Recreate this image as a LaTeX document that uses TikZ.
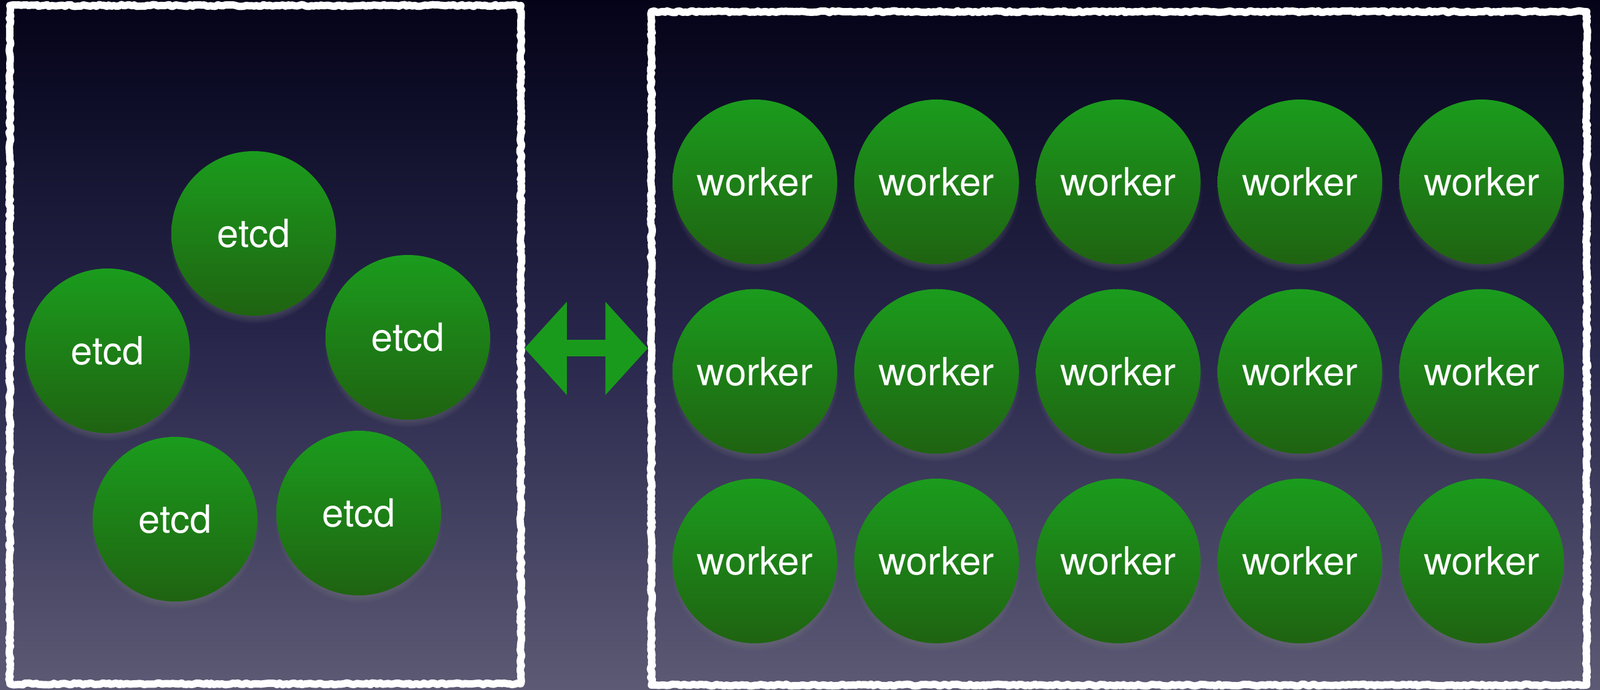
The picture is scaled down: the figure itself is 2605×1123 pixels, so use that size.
\documentclass[tikz,border=0pt]{standalone}
\usepackage{fontspec}
\setmainfont{TeX Gyre Heros}
\usetikzlibrary{arrows.meta,positioning,shadows,decorations.pathmorphing}
\definecolor{bgtop}{RGB}{4,3,24}
\definecolor{bgmid}{RGB}{40,39,76}
\definecolor{bgbot}{RGB}{92,90,116}
\definecolor{nodetop}{RGB}{27,156,29}
\definecolor{nodebot}{RGB}{31,99,17}
\definecolor{arrgreen}{RGB}{26,154,28}

\begin{document}
\begin{tikzpicture}[
    x=0.1mm, y=-0.1mm,
    font=\fontsize{18}{22}\selectfont,
    member/.style={
            circle, minimum size=26.8mm, inner sep=0pt, outer sep=0pt, text=white,
            top color=nodetop, bottom color=nodebot,
            circular drop shadow={shadow xshift=0pt, shadow yshift=-1mm,
                    shadow scale=1.02, opacity=.5}
        },
    chalk/.style={
            draw=white, line width=3.4pt, line join=round, decorate,
            decoration={random steps, segment length=1.2pt, amplitude=.45pt}
        },
    dblarr/.style={
            {Triangle[length=6.9mm,width=15.2mm,line width=0pt]}-{Triangle[length=6.9mm,width=15.2mm,line width=0pt]},
            line width=2.7mm, arrgreen
        }
    ]
    \useasboundingbox (0,0) rectangle (2605,1123);
    \shade[top color=bgtop, bottom color=bgbot, middle color=bgmid] (0,0) rectangle (2605,1123);

    % the two groups
    \node[chalk, minimum width=83.2mm, minimum height=110.4mm] (etcdbox) at (432,561) {};
    \node[chalk, minimum width=152.3mm, minimum height=109.6mm] (workerbox) at (1822,567) {};

    % etcd cluster
    \node[member] (etcd1) at (413,380) {etcd};
    \node[member] (etcd2) at (175,571) {etcd};
    \node[member] (etcd3) at (664,549) {etcd};
    \node[member] (etcd4) at (285,845) {etcd};
    \node[member] (etcd5) at (584,835) {etcd};

    % workers
    \node[member] (w11) at (1229,296) {worker};
    \node[member, right=2.78mm of w11] (w12) {worker};
    \node[member, right=2.78mm of w12] (w13) {worker};
    \node[member, right=2.78mm of w13] (w14) {worker};
    \node[member, right=2.78mm of w14] (w15) {worker};
    \node[member, below=4.05mm of w11] (w21) {worker};
    \node[member, right=2.78mm of w21] (w22) {worker};
    \node[member, right=2.78mm of w22] (w23) {worker};
    \node[member, right=2.78mm of w23] (w24) {worker};
    \node[member, right=2.78mm of w24] (w25) {worker};
    \node[member, below=4.05mm of w21] (w31) {worker};
    \node[member, right=2.78mm of w31] (w32) {worker};
    \node[member, right=2.78mm of w32] (w33) {worker};
    \node[member, right=2.78mm of w33] (w34) {worker};
    \node[member, right=2.78mm of w34] (w35) {worker};

    \draw[dblarr] (etcdbox.east |- workerbox.west) -- (workerbox.west);
\end{tikzpicture}
\end{document}
